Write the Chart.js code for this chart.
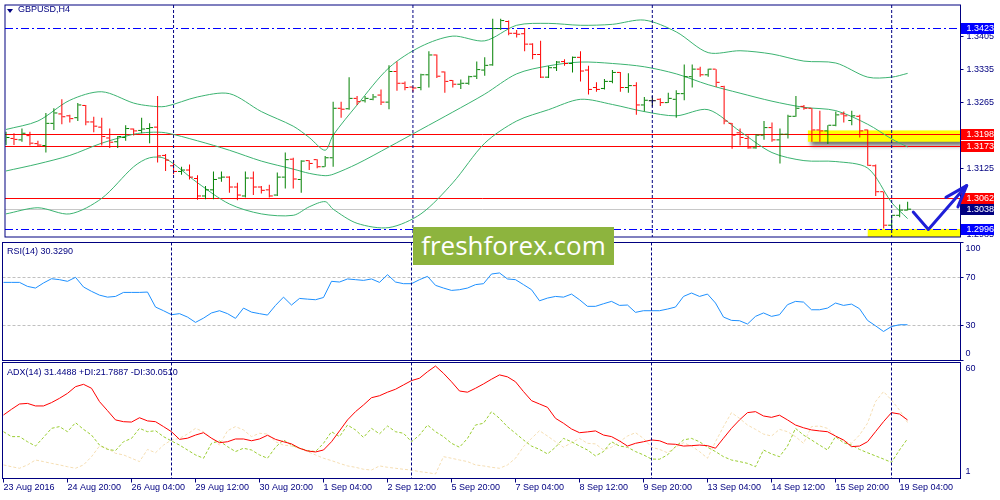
<!DOCTYPE html>
<html>
<head>
<meta charset="utf-8">
<title>GBPUSD,H4</title>
<script src="https://cdn.jsdelivr.net/npm/chart.js@4.4.1/dist/chart.umd.min.js"></script>
<style>
  html, body { margin: 0; padding: 0; background: #fff; }
  #wrap { position: relative; width: 1000px; height: 500px; overflow: hidden; }
  #wrap canvas { position: absolute; left: 0; }
  .txt { position: absolute; font: 9px "Liberation Sans", Arial, sans-serif; line-height: 11px; color: #000080; white-space: nowrap; }
  #tri { position: absolute; left: 7px; top: 9px; width: 0; height: 0; border-left: 3px solid transparent; border-right: 3px solid transparent; border-top: 4px solid #000080; }
  #wm { position: absolute; left: 413px; top: 227px; width: 201px; height: 38px; background: #8db43e; color: #fff; font: 26px "Open Sans", sans-serif; line-height: 36px; text-align: center; }
</style>
</head>
<body>
<div id="wrap">
  <canvas id="priceChart" width="1000" height="242" style="top:0"></canvas>
  <canvas id="rsiChart" width="1000" height="122" style="top:240px"></canvas>
  <canvas id="adxChart" width="1000" height="140" style="top:360px"></canvas>
  <div id="tri"></div>
  <div class="txt" style="left:18px;top:4px">GBPUSD,H4</div>
  <div class="txt" style="left:7px;top:246px">RSI(14) 30.3290</div>
  <div class="txt" style="left:7px;top:367px">ADX(14) 31.4488 +DI:21.7887 -DI:30.0510</div>
  <div id="wm">freshforex.com</div>
</div>
<script>
// one label every 8 bars (H4)
const timeLabels = ["23 Aug 2016", "24 Aug 20:00", "26 Aug 04:00", "29 Aug 12:00", "30 Aug 20:00",
  "1 Sep 04:00", "2 Sep 12:00", "5 Sep 20:00", "7 Sep 04:00", "8 Sep 12:00", "9 Sep 20:00",
  "13 Sep 04:00", "14 Sep 12:00", "15 Sep 20:00", "19 Sep 04:00"];
const weekStarts = [21, 51, 81, 111];

const open = [1.3183,1.3188,1.3185,1.3194,1.3177,1.3173,1.3220,1.3240,1.3236,1.3232,
  1.3258,1.3223,1.3212,1.3189,1.3181,1.3190,1.3208,1.3205,1.3209,1.3212,
  1.3152,1.3130,1.3118,1.3121,1.3103,1.3066,1.3079,1.3104,1.3106,1.3085,
  1.3066,1.3104,1.3085,1.3079,1.3068,1.3106,1.3144,1.3101,1.3141,1.3143,
  1.3128,1.3147,1.3252,1.3251,1.3273,1.3268,1.3271,1.3280,1.3265,1.3330,
  1.3305,1.3297,1.3296,1.3323,1.3365,1.3329,1.3311,1.3303,1.3305,1.3320,
  1.3333,1.3344,1.3421,1.3436,1.3411,1.3410,1.3388,1.3366,1.3318,1.3338,
  1.3351,1.3347,1.3360,1.3333,1.3296,1.3294,1.3309,1.3328,1.3296,1.3300,
  1.3259,1.3268,1.3271,1.3264,1.3271,1.3283,1.3319,1.3335,1.3323,1.3335,
  1.3298,1.3220,1.3200,1.3188,1.3168,1.3195,1.3211,1.3185,1.3197,1.3235,
  1.3256,1.3252,1.3206,1.3204,1.3216,1.3240,1.3226,1.3235,1.3206,1.3130,
  1.3075,1.3004,1.3025,1.3036];
const high = [1.3202,1.3199,1.3209,1.3202,1.3183,1.3242,1.3252,1.3271,1.3238,1.3263,
  1.3259,1.3234,1.3232,1.3209,1.3193,1.3216,1.3209,1.3232,1.3220,1.3278,
  1.3155,1.3140,1.3128,1.3133,1.3110,1.3087,1.3118,1.3118,1.3108,1.3094,
  1.3118,1.3118,1.3087,1.3090,1.3116,1.3158,1.3147,1.3142,1.3142,1.3144,
  1.3151,1.3266,1.3266,1.3318,1.3278,1.3278,1.3282,1.3292,1.3343,1.3351,
  1.3309,1.3298,1.3325,1.3373,1.3366,1.3330,1.3312,1.3313,1.3321,1.3351,
  1.3360,1.3442,1.3442,1.3438,1.3418,1.3422,1.3390,1.3395,1.3342,1.3352,
  1.3356,1.3362,1.3373,1.3342,1.3307,1.3314,1.3333,1.3329,1.3326,1.3307,
  1.3276,1.3278,1.3273,1.3285,1.3290,1.3345,1.3345,1.3340,1.3336,1.3335,
  1.3300,1.3221,1.3209,1.3194,1.3197,1.3225,1.3222,1.3209,1.3238,1.3278,
  1.3259,1.3252,1.3247,1.3216,1.3245,1.3245,1.3247,1.3238,1.3207,1.3133,
  1.3075,1.3025,1.3048,1.3054];
const low = [1.3174,1.3174,1.3181,1.3173,1.3172,1.3158,1.3206,1.3218,1.3222,1.3225,
  1.3216,1.3201,1.3173,1.3168,1.3168,1.3183,1.3194,1.3199,1.3178,1.3137,
  1.3119,1.3112,1.3111,1.3101,1.3058,1.3059,1.3059,1.3096,1.3073,1.3057,
  1.3063,1.3068,1.3071,1.3063,1.3066,1.3082,1.3082,1.3073,1.3121,1.3125,
  1.3128,1.3128,1.3232,1.3249,1.3259,1.3264,1.3269,1.3259,1.3250,1.3289,
  1.3290,1.3287,1.3290,1.3296,1.3316,1.3285,1.3296,1.3293,1.3302,1.3314,
  1.3321,1.3342,1.3418,1.3407,1.3402,1.3373,1.3356,1.3316,1.3316,1.3331,
  1.3342,1.3328,1.3309,1.3281,1.3287,1.3292,1.3305,1.3287,1.3285,1.3238,
  1.3245,1.3256,1.3257,1.3263,1.3232,1.3269,1.3296,1.3319,1.3319,1.3297,
  1.3218,1.3166,1.3173,1.3166,1.3166,1.3185,1.3181,1.3135,1.3188,1.3234,
  1.3249,1.3181,1.3181,1.3176,1.3214,1.3222,1.3216,1.3190,1.3130,1.3066,
  1.2997,1.2996,1.3021,1.3035];
const close = [1.3190,1.3186,1.3199,1.3178,1.3174,1.3220,1.3242,1.3234,1.3230,1.3259,
  1.3223,1.3214,1.3192,1.3180,1.3192,1.3209,1.3204,1.3208,1.3211,1.3151,
  1.3142,1.3118,1.3121,1.3106,1.3066,1.3079,1.3101,1.3106,1.3085,1.3068,
  1.3104,1.3085,1.3078,1.3066,1.3106,1.3143,1.3102,1.3140,1.3135,1.3128,
  1.3147,1.3252,1.3250,1.3273,1.3266,1.3273,1.3276,1.3265,1.3330,1.3305,
  1.3296,1.3295,1.3323,1.3365,1.3320,1.3309,1.3303,1.3305,1.3319,1.3334,
  1.3343,1.3421,1.3438,1.3411,1.3409,1.3388,1.3366,1.3318,1.3338,1.3350,
  1.3347,1.3360,1.3331,1.3292,1.3292,1.3309,1.3328,1.3296,1.3300,1.3259,
  1.3269,1.3268,1.3264,1.3273,1.3283,1.3319,1.3335,1.3323,1.3335,1.3307,
  1.3225,1.3195,1.3190,1.3168,1.3195,1.3211,1.3185,1.3197,1.3235,1.3252,
  1.3252,1.3206,1.3204,1.3216,1.3238,1.3236,1.3236,1.3204,1.3131,1.3075,
  1.3004,1.3025,1.3036,1.3038];

// Bollinger bands, read at these bar numbers
const bbIdx = [0,4,8,12,16,18,20,24,28,32,36,38,40,41,44,48,52,56,60,64,68,72,76,80,84,88,92,96,100,104,108,111,113];
const bbUpper = [1.3207,1.3225,1.3269,1.3287,1.3263,1.3257,1.3256,1.3276,1.3283,1.3245,1.3214,1.3190,1.3163,1.3195,1.3259,1.3338,1.3383,
  1.3405,1.3395,1.3428,1.3432,1.3428,1.3430,1.3439,1.3414,1.3370,1.3374,1.3367,1.3352,1.3348,1.3318,1.3318,1.3326];
const bbMiddle = [1.3119,1.3134,1.3152,1.3178,1.3197,1.3201,1.3200,1.3183,1.3163,1.3140,1.3123,1.3114,1.3109,1.3112,1.3134,1.3170,1.3207,
  1.3244,1.3282,1.3325,1.3342,1.3350,1.3347,1.3340,1.3325,1.3302,1.3284,1.3267,1.3254,1.3247,1.3218,1.3187,1.3170];
const bbLower = [1.3028,1.3041,1.3028,1.3061,1.3128,1.3147,1.3145,1.3094,1.3049,1.3028,1.3025,1.3043,1.3054,1.3038,1.3008,1.2999,1.3028,
  1.3094,1.3178,1.3225,1.3249,1.3271,1.3260,1.3245,1.3236,1.3249,1.3203,1.3158,1.3141,1.3139,1.3125,1.3052,1.3018];

const redLevels = [1.3198, 1.3173, 1.3062];
const blueLevels = [1.3423, 1.2996];
const bidPrice = 1.3038;
const priceTicks = [1.3405, 1.3335, 1.3265, 1.3195, 1.3125, 1.3055, 1.2985];
const priceTags = [
  { price: 1.3423, color: "#0000ff" },
  { price: 1.3198, color: "#ff0000" },
  { price: 1.3173, color: "#ff0000" },
  { price: 1.3062, color: "#ff0000" },
  { price: 1.3038, color: "#000080" },
  { price: 1.2996, color: "#0000ff" }
];
const zones = [
  { from: 100.5, top: 1.3205, bottom: 1.3181 },
  { from: 108.0, top: 1.2996, bottom: 1.2975 }
];
const arrowX = [113.7, 115.6, 120.4];
const arrowY = [1.3032, 1.2995, 1.3088];
const arrowHeadX = [117.8, 120.4, 119.3];
const arrowHeadY = [1.3063, 1.3088, 1.3043];

const rsi = [66.2,66.2,66.2,62.8,61.4,65.7,69.3,68.5,67.1,70.5,
  62.3,58.6,55.4,53.7,54.3,57.7,57.7,57.7,58.0,45.3,
  42.2,38.8,39.7,36.8,32.3,35.9,40.3,42.2,39.7,35.7,
  44.4,41.0,39.7,38.5,46.7,53.7,47.0,52.6,52.0,51.5,
  53.4,67.1,66.5,69.1,68.5,67.9,69.1,66.2,72.7,66.5,
  65.1,65.1,68.5,71.3,63.7,61.4,59.4,60.0,61.4,64.3,
  65.1,73.3,74.2,69.1,68.5,64.3,60.0,50.6,52.9,54.3,
  53.7,56.3,51.5,45.9,45.9,48.1,50.1,46.7,47.0,40.8,
  42.2,42.2,42.2,43.6,45.3,54.3,57.2,54.3,56.3,48.7,
  36.8,34.0,33.7,30.9,37.4,40.3,37.4,38.8,47.3,50.1,
  49.5,43.0,43.0,44.4,48.7,46.7,47.8,43.9,34.0,29.4,
  24.6,28.8,30.3,30.3];
const rsiLevels = [30, 70];

const adx = [33.9,36.8,39.5,39.8,38.5,38.5,40.2,42.4,44.9,48.3,
  49.5,47.5,40.7,36.1,31.4,30.5,30.3,32.5,30.9,30.5,
  28.0,25.4,21.5,22.1,23.7,24.9,22.1,19.8,20.3,21.7,
  21.7,20.8,21.7,23.6,21.5,20.3,19.2,17.0,15.6,15.1,
  16.1,20.3,25.8,31.4,35.6,39.0,42.7,43.7,45.5,47.0,
  49.2,51.4,52.6,55.9,58.8,55.1,50.8,46.1,45.5,47.5,
  49.7,52.1,54.3,53.3,50.8,45.8,41.2,39.5,37.8,32.2,
  29.7,26.8,24.9,25.3,25.8,23.7,22.9,20.7,18.1,19.5,
  20.3,21.2,20.8,19.2,19.0,18.1,18.3,18.6,18.3,17.0,
  22.1,27.1,31.4,35.1,35.6,33.4,32.7,33.8,31.4,28.8,
  27.4,26.3,25.8,25.4,23.2,21.2,17.8,18.1,20.3,25.4,
  30.5,35.1,34.4,31.4];
const plusDI = [25.4,22.9,22.9,20.3,18.1,22.5,27.1,28.0,25.4,30.0,
  26.6,23.7,18.6,16.4,15.8,20.3,22.0,27.1,25.4,25.9,
  22.9,20.7,18.6,16.1,13.6,11.9,19.5,20.7,17.8,15.3,
  17.0,16.1,13.6,11.9,17.5,21.2,18.6,17.0,15.8,15.3,
  19.5,25.4,22.9,28.8,26.3,22.5,27.1,24.3,28.3,25.4,
  24.6,20.3,23.7,28.8,25.4,22.9,19.5,17.5,22.0,28.8,
  29.7,35.6,32.2,27.9,24.6,21.2,18.1,16.4,14.1,17.5,
  22.0,20.3,18.1,16.1,13.1,15.3,20.3,18.1,17.5,15.3,
  13.6,11.5,11.4,13.6,17.8,21.2,22.0,20.3,17.5,15.3,
  12.7,11.0,10.2,9.3,7.6,16.1,14.1,12.7,18.1,27.1,
  23.7,21.2,18.6,16.1,22.9,19.8,18.6,16.4,14.7,13.1,
  11.5,9.8,16.1,21.8];
const minusDI = [8.5,7.6,6.8,8.5,11.0,10.2,9.3,8.5,7.6,6.8,
  8.5,12.7,18.1,16.9,14.4,13.6,11.9,10.2,16.4,14.7,
  18.6,21.2,22.0,24.2,27.1,25.4,22.0,18.6,25.9,28.0,
  26.3,22.9,24.6,24.2,20.3,18.6,18.1,16.9,15.3,13.6,
  11.9,10.7,9.3,8.0,7.3,6.3,5.9,8.0,7.3,6.8,
  6.3,5.9,5.1,4.6,3.9,12.7,11.9,11.0,10.2,8.5,
  8.0,7.3,6.8,8.5,11.9,17.8,22.0,25.9,23.2,20.3,
  17.5,19.8,22.0,19.5,19.2,16.1,17.5,20.3,23.2,24.9,
  22.0,17.5,16.4,14.7,17.5,19.8,18.1,15.3,11.9,20.3,
  28.0,35.1,32.2,28.8,26.6,24.2,23.2,26.6,25.4,22.9,
  19.5,28.0,28.3,27.1,23.2,20.8,19.5,23.7,29.7,40.7,
  45.8,41.5,36.4,30.1];

const X_MIN = -0.125, X_MAX = 119.625, AXIS_W = 39.5;
const NAVY = "#000080";
const FONT = '"Liberation Sans", Arial, sans-serif';
const bars = open.map((_, i) => i);
const barColors = bars.map(i => close[i] > open[i] ? "#008000" : close[i] < open[i] ? "#ff0000" : "#000000");

function fitAxis(s) { s.width = AXIS_W; s.paddingTop = 0; s.paddingBottom = 0; }

const frame = {
  id: "frame",
  afterDraw(chart) {
    const { ctx, chartArea: a } = chart;
    ctx.save();
    ctx.strokeStyle = NAVY;
    ctx.lineWidth = 1;
    ctx.strokeRect(a.left, a.top, a.right - a.left, a.bottom - a.top);
    ctx.restore();
  }
};

const weekLines = {
  id: "weekLines",
  afterDatasetsDraw(chart) {
    const { ctx, chartArea: a, scales: { x } } = chart;
    ctx.save();
    ctx.strokeStyle = NAVY;
    ctx.lineWidth = 1;
    ctx.setLineDash([3, 2]);
    weekStarts.forEach(w => {
      const px = x.getPixelForValue(w);
      ctx.beginPath();
      ctx.moveTo(px, a.top);
      ctx.lineTo(px, a.bottom);
      ctx.stroke();
    });
    ctx.restore();
  }
};

const edgeLabels = {
  id: "edgeLabels",
  afterDraw(chart, args, opts) {
    const { ctx, chartArea: a } = chart;
    ctx.save();
    ctx.fillStyle = NAVY;
    ctx.font = "9px " + FONT;
    ctx.textBaseline = "middle";
    ctx.fillText(opts.texts[0], a.right + 5, a.top + 6.5);
    ctx.fillText(opts.texts[1], a.right + 5, a.bottom - 6.5);
    ctx.restore();
  }
};

// yellow zones and horizontal price levels, behind the bars
const levelsPlugin = {
  id: "levels",
  beforeDatasetsDraw(chart) {
    const { ctx, chartArea: a, scales: { x, y } } = chart;
    const x0 = x.getPixelForValue(X_MIN), x1 = x.getPixelForValue(X_MAX);
    ctx.save();
    ctx.beginPath();
    ctx.rect(a.left, a.top, a.right - a.left, a.bottom - a.top);
    ctx.clip();
    zones.forEach(z => {
      const zx = x.getPixelForValue(z.from);
      const y0 = y.getPixelForValue(z.top), y1 = y.getPixelForValue(z.bottom);
      ctx.save();
      ctx.shadowColor = "rgba(0,0,0,0.55)";
      ctx.shadowBlur = 4;
      ctx.shadowOffsetX = 3;
      ctx.shadowOffsetY = 4;
      ctx.fillStyle = "#ffff00";
      ctx.fillRect(zx, y0, x1 - zx, y1 - y0);
      ctx.restore();
    });
    const line = (v, color, dash) => {
      const py = Math.round(y.getPixelForValue(v)) + 0.5;
      ctx.strokeStyle = color;
      ctx.lineWidth = 1;
      ctx.setLineDash(dash);
      ctx.beginPath();
      ctx.moveTo(x0, py);
      ctx.lineTo(x1, py);
      ctx.stroke();
    };
    line(bidPrice, "#c8c8c8", []);
    redLevels.forEach(v => line(v, "#ff0000", []));
    blueLevels.forEach(v => line(v, "#0000ff", [8, 3, 2, 3]));
    ctx.restore();
  }
};

const tagsPlugin = {
  id: "tags",
  afterDraw(chart) {
    const { ctx, chartArea: a, scales: { x, y } } = chart;
    ctx.save();
    ctx.font = "9px " + FONT;
    ctx.textBaseline = "middle";
    priceTags.forEach(t => {
      const py = Math.round(y.getPixelForValue(t.price));
      ctx.fillStyle = t.color;
      ctx.fillRect(Math.floor(a.right) + 1, py - 5, 33, 11);
      ctx.fillStyle = "#ffffff";
      ctx.fillText(t.price.toFixed(4), a.right + 6, py + 1);
    });
    // hand drawn arrow
    ctx.strokeStyle = "#1f1fd8";
    ctx.lineWidth = 3;
    ctx.lineCap = "round";
    ctx.lineJoin = "round";
    [[arrowX, arrowY], [arrowHeadX, arrowHeadY]].forEach(([xs, ys]) => {
      ctx.beginPath();
      xs.forEach((v, k) => {
        const px = x.getPixelForValue(v), py = y.getPixelForValue(ys[k]);
        if (k === 0) ctx.moveTo(px, py); else ctx.lineTo(px, py);
      });
      ctx.stroke();
    });
    ctx.restore();
  }
};

function band(values) {
  return { type: "line", data: bbIdx.map((i, k) => ({ x: i, y: values[k] })), borderColor: "#3cb371",
    borderWidth: 1, pointRadius: 0, tension: 0.3, order: 2 };
}
function baseOptions(padding, scales, extra) {
  return {
    responsive: false, animation: false, events: [],
    layout: { padding },
    scales,
    plugins: Object.assign({ legend: { display: false }, tooltip: { enabled: false } }, extra || {})
  };
}
const hiddenX = { type: "linear", min: X_MIN, max: X_MAX, offset: false, display: false };

new Chart(document.getElementById("priceChart"), {
  type: "bar",
  data: {
    datasets: [
      { type: "line", data: bars.map(i => ({ x: i - 0.25, y: open[i] })), showLine: false, pointStyle: "line",
        pointRadius: 1.5, pointBorderWidth: 1, pointBorderColor: barColors, order: 0 },
      { type: "line", data: bars.map(i => ({ x: i + 0.25, y: close[i] })), showLine: false, pointStyle: "line",
        pointRadius: 1.5, pointBorderWidth: 1, pointBorderColor: barColors, order: 0 },
      { type: "bar", data: bars.map(i => ({ x: i, y: [low[i], high[i]] })), backgroundColor: barColors,
        barThickness: 1, inflateAmount: 0, borderWidth: 0, grouped: false, order: 1 },
      band(bbUpper), band(bbMiddle), band(bbLower)
    ]
  },
  options: baseOptions({ left: 2.5, top: 2.5, bottom: 1.5, right: 0 }, {
    x: hiddenX,
    y: {
      type: "linear", position: "right", min: 1.2979, max: 1.3471,
      afterFit: fitAxis,
      afterBuildTicks: s => { s.ticks = priceTicks.map(v => ({ value: v })); },
      ticks: { color: NAVY, font: { family: FONT, size: 9 }, padding: 3, callback: v => v.toFixed(4) },
      grid: { drawOnChartArea: false, tickLength: 3, tickColor: NAVY },
      border: { display: false }
    }
  }),
  plugins: [levelsPlugin, weekLines, frame, tagsPlugin]
});

new Chart(document.getElementById("rsiChart"), {
  type: "line",
  data: {
    datasets: [{ data: bars.map(i => ({ x: i, y: rsi[i] })), borderColor: "#1e90ff", borderWidth: 1, pointRadius: 0 }]
  },
  options: baseOptions({ left: 2.5, top: 2.5, bottom: 1.5, right: 0 }, {
    x: hiddenX,
    y: {
      type: "linear", position: "right", min: 0, max: 100,
      afterFit: fitAxis,
      afterBuildTicks: s => { s.ticks = [0, 30, 70, 100].map(v => ({ value: v })); },
      ticks: { color: NAVY, font: { family: FONT, size: 9 }, padding: 2, callback: v => rsiLevels.includes(v) ? String(v) : "" },
      grid: { color: c => rsiLevels.includes(c.tick && c.tick.value) ? "#c0c0c0" : "rgba(0,0,0,0)", tickLength: 3, tickColor: NAVY },
      border: { display: false, dash: [3, 2] }
    }
  }, { edgeLabels: { texts: ["100", "0"] } }),
  plugins: [weekLines, frame, edgeLabels]
});

new Chart(document.getElementById("adxChart"), {
  type: "line",
  data: {
    datasets: [
      { data: bars.map(i => ({ x: i, y: adx[i] })), borderColor: "#ff0000", borderWidth: 1, pointRadius: 0 },
      { data: bars.map(i => ({ x: i, y: plusDI[i] })), borderColor: "#9acd32", borderWidth: 1, borderDash: [3, 2], pointRadius: 0 },
      { data: bars.map(i => ({ x: i, y: minusDI[i] })), borderColor: "#f5deb3", borderWidth: 1, borderDash: [3, 2], pointRadius: 0 }
    ]
  },
  options: baseOptions({ left: 2.5, top: 2.5, bottom: 0, right: 0 }, {
    x: {
      type: "linear", min: X_MIN, max: X_MAX, offset: false,
      afterBuildTicks: s => { s.ticks = timeLabels.map((_, k) => ({ value: k * 8 })); },
      afterFit: s => { s.height = 21.5; s.paddingLeft = 0; s.paddingRight = 0; },
      ticks: { autoSkip: false, maxRotation: 0, align: "start", color: NAVY, font: { family: FONT, size: 9 }, padding: 0,
        callback: (v, k) => timeLabels[k] },
      grid: { drawOnChartArea: false, tickLength: 4, tickColor: NAVY },
      border: { display: false }
    },
    y: {
      type: "linear", position: "right", min: 1.6, max: 60.6,
      afterFit: fitAxis,
      ticks: { display: false },
      grid: { display: false },
      border: { display: false }
    }
  }, { edgeLabels: { texts: ["60", "1"] } }),
  plugins: [weekLines, frame, edgeLabels]
});
</script>
</body>
</html>
